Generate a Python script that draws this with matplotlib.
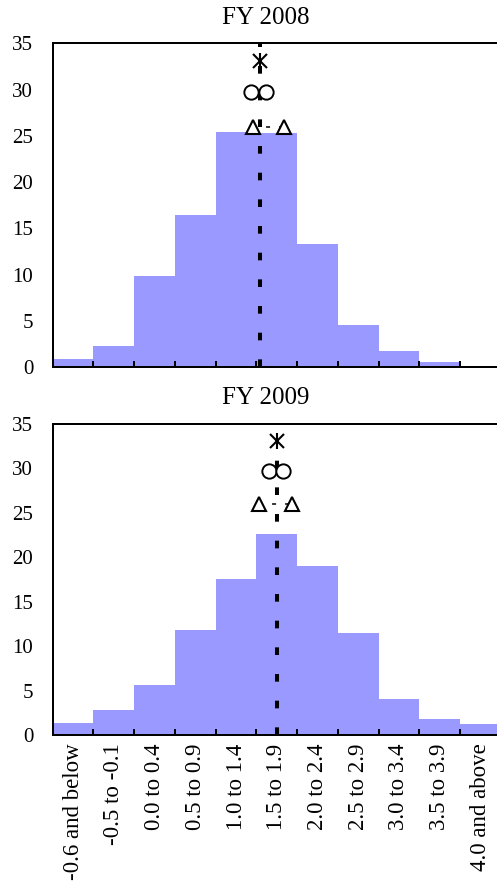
import matplotlib
matplotlib.use("Agg")
import matplotlib.pyplot as plt
import numpy as np

plt.rcParams["font.family"] = ["Liberation Serif", "DejaVu Serif"]
plt.rcParams["lines.scale_dashes"] = False

# forecast bins (percent) and share of forecasters in each
bins = ["-0.6 and below", "-0.5 to -0.1", "0.0 to 0.4", "0.5 to 0.9", "1.0 to 1.4",
        "1.5 to 1.9", "2.0 to 2.4", "2.5 to 2.9", "3.0 to 3.4", "3.5 to 3.9",
        "4.0 and above"]
titles = ["FY 2008", "FY 2009"]
share_2008 = [0.9, 2.3, 9.9, 16.5, 25.4, 25.3, 13.3, 4.6, 1.8, 0.6, 0.15]
share_2009 = [1.4, 2.85, 5.7, 11.8, 17.6, 22.6, 19.0, 11.5, 4.1, 1.85, 1.3]

# summary statistics of the forecasts (percent)
median_2008 = 1.49
central_2008 = [1.38, 1.57]
range_2008 = [1.41, 1.79]
median_2009 = 1.70
central_2009 = [1.60, 1.78]
range_2009 = [1.48, 1.89]

# heights of the marker rows: median, central tendency, range
marker_y = [33.1, 29.7, 26.0]
line_top = [35, 31]

BAR = "#9999FF"


def to_pos(v):
    # percent value -> position on the bin axis (0.0 to 0.4 is bin 2)
    return 2 * np.asarray(v) + 1.6


fig = plt.figure(figsize=(4.97, 8.84), dpi=100)
ax1 = fig.add_axes([0.106, 0.5845, 0.894, 0.3666])
ax2 = fig.add_axes([0.106, 0.1682, 0.894, 0.3522])

panels = [
    (ax1, share_2008, median_2008, central_2008, range_2008, line_top[0]),
    (ax2, share_2009, median_2009, central_2009, range_2009, line_top[1]),
]

x = np.arange(len(bins))
for i, (ax, share, med, cen, rng, top) in enumerate(panels):
    ax.bar(x, share, width=1.0, color=BAR, zorder=1)

    m = to_pos(med)
    ax.plot([m, m], [0, top], color="black", lw=2.9, dashes=(5.5, 13.7),
            solid_capstyle="butt", dash_capstyle="butt", zorder=2)

    for pair, y in [(cen, marker_y[1]), (rng, marker_y[2])]:
        p = to_pos(pair)
        ax.plot(p, [y, y], color="black", lw=1.1, dashes=(2.9, 6.5), zorder=2)
    ax.plot(to_pos(cen), [marker_y[1]] * 2, ls="none", marker="o", ms=10.3,
            mfc="white", mec="black", mew=1.4, zorder=4)
    ax.plot(to_pos(rng), [marker_y[2]] * 2, ls="none", marker="^", ms=9.6,
            mfc="white", mec="black", mew=1.5, zorder=4)
    # asterisk = x plus a vertical bar
    ax.plot([m], [marker_y[0]], ls="none", marker="x", ms=10.5,
            mec="black", mew=1.5, zorder=5)
    ax.plot([m], [marker_y[0]], ls="none", marker="|", ms=12,
            mec="black", mew=1.5, zorder=5)

    ax.set_xlim(-0.5, 10.406)
    ax.set_ylim(0, 35)
    ax.set_yticks(range(0, 36, 5))
    ax.set_yticks([0, 35], minor=True)
    ax.tick_params(axis="y", which="major", length=0, pad=14, labelsize=15)
    ax.tick_params(axis="y", which="minor", length=5.8, width=1.44, direction="out")
    ax.set_xticks(x)
    ax.set_xticks(np.arange(0.5, 10, 1), minor=True)
    ax.tick_params(axis="x", which="major", length=0)
    ax.tick_params(axis="x", which="minor", length=4.3, width=1.44, direction="in")
    if i == 0:
        ax.set_xticklabels([])
    else:
        ax.set_xticklabels(bins, rotation=90, fontsize=16.5)
        ax.tick_params(axis="x", which="major", pad=6)

    ax.spines["right"].set_visible(False)
    for s in ["left", "bottom", "top"]:
        ax.spines[s].set_linewidth(1.44)

fig.text(266 / 497, 1 - 17.7 / 884, titles[0], ha="center", va="center", fontsize=18)
fig.text(266 / 497, 1 - 398 / 884, titles[1], ha="center", va="center", fontsize=18)

fig.savefig("out.png", dpi=100)
